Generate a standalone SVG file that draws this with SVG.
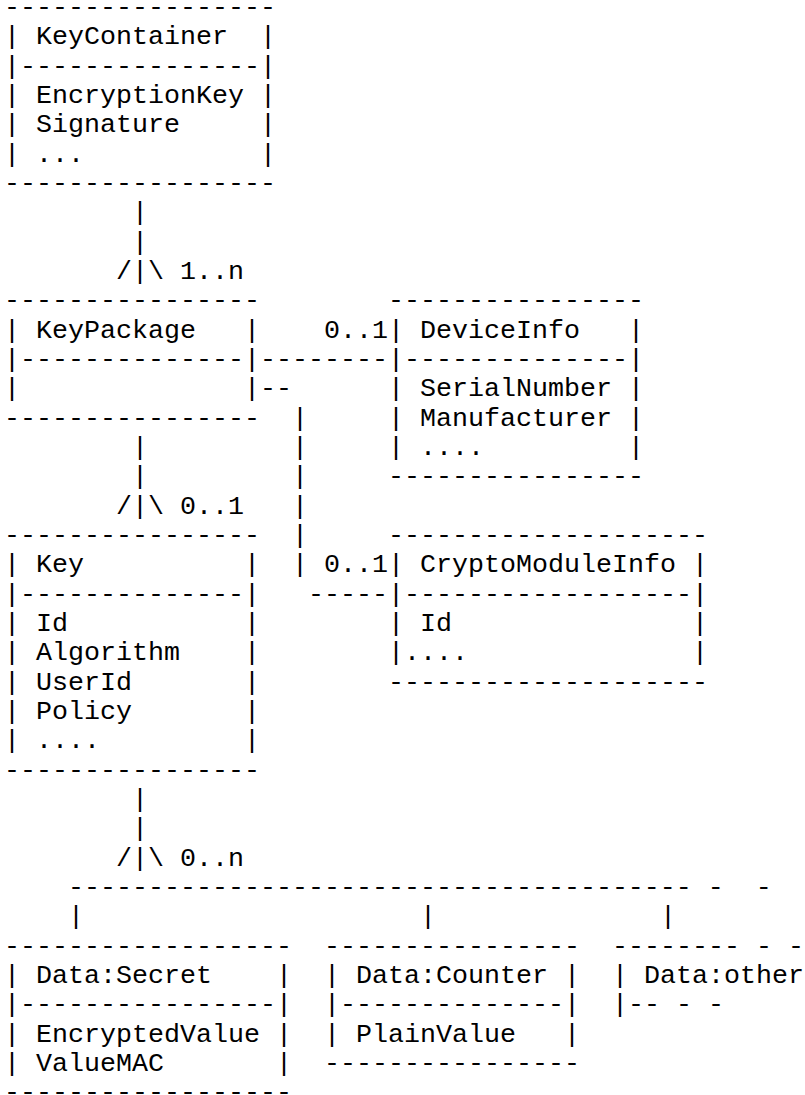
<svg xmlns="http://www.w3.org/2000/svg" width="805" height="1095" viewBox="0 0 805 1095" xml:space="preserve">
<style>
text{font-family:"Liberation Mono","Courier New",monospace;font-size:26.667px;fill:#000;white-space:pre}
</style>
<rect x="0" y="0" width="805" height="1095" fill="#fff"/>
<g id="node-keycontainer">
<text x="4" y="15">-----------------</text>
<text x="4" y="44.33">| KeyContainer  |</text>
<text x="4" y="73.67">|---------------|</text>
<text x="4" y="103">| EncryptionKey |</text>
<text x="4" y="132.33">| Signature     |</text>
<text x="4" y="161.67">| ...           |</text>
<text x="4" y="191">-----------------</text>
</g>
<g id="node-keypackage">
<text x="4" y="308.33">----------------</text>
<text x="4" y="337.67">| KeyPackage   |</text>
<text x="4" y="367">|--------------|</text>
<text x="4" y="396.33">|              |</text>
<text x="4" y="425.67">----------------</text>
</g>
<g id="node-deviceinfo">
<text x="388" y="308.33">----------------</text>
<text x="388" y="337.67">| DeviceInfo   |</text>
<text x="388" y="367">|--------------|</text>
<text x="388" y="396.33">| SerialNumber |</text>
<text x="388" y="425.67">| Manufacturer |</text>
<text x="388" y="455">| ....         |</text>
<text x="388" y="484.33">----------------</text>
</g>
<g id="node-key">
<text x="4" y="543">----------------</text>
<text x="4" y="572.33">| Key          |</text>
<text x="4" y="601.67">|--------------|</text>
<text x="4" y="631">| Id           |</text>
<text x="4" y="660.33">| Algorithm    |</text>
<text x="4" y="689.67">| UserId       |</text>
<text x="4" y="719">| Policy       |</text>
<text x="4" y="748.33">| ....         |</text>
<text x="4" y="777.67">----------------</text>
</g>
<g id="node-cryptomoduleinfo">
<text x="388" y="543">--------------------</text>
<text x="388" y="572.33">| CryptoModuleInfo |</text>
<text x="388" y="601.67">|------------------|</text>
<text x="388" y="631">| Id               |</text>
<text x="388" y="660.33">|....              |</text>
<text x="388" y="689.67">--------------------</text>
</g>
<g id="node-data-secret">
<text x="4" y="953.67">------------------</text>
<text x="4" y="983">| Data:Secret    |</text>
<text x="4" y="1012.33">|----------------|</text>
<text x="4" y="1041.67">| EncryptedValue |</text>
<text x="4" y="1071">| ValueMAC       |</text>
<text x="4" y="1100.33">------------------</text>
</g>
<g id="node-data-counter">
<text x="324" y="953.67">----------------</text>
<text x="324" y="983">| Data:Counter |</text>
<text x="324" y="1012.33">|--------------|</text>
<text x="324" y="1041.67">| PlainValue   |</text>
<text x="324" y="1071">----------------</text>
</g>
<g id="node-data-other">
<text x="612" y="953.67">-------- - -</text>
<text x="612" y="983">| Data:other</text>
<text x="612" y="1012.33">|-- - -</text>
</g>
<g id="connectors">
<text x="132" y="220.33">|</text>
<text x="132" y="249.67">|</text>
<text x="116" y="279">/|\ 1..n</text>
<text x="324" y="337.67">0..1</text>
<text x="260" y="367">--------</text>
<text x="260" y="396.33">--</text>
<text x="292" y="425.67">|</text>
<text x="292" y="455">|</text>
<text x="292" y="484.33">|</text>
<text x="292" y="513.67">|</text>
<text x="292" y="543">|</text>
<text x="292" y="572.33">|</text>
<text x="132" y="455">|</text>
<text x="132" y="484.33">|</text>
<text x="116" y="513.67">/|\ 0..1</text>
<text x="324" y="572.33">0..1</text>
<text x="308" y="601.67">-----</text>
<text x="132" y="807">|</text>
<text x="132" y="836.33">|</text>
<text x="116" y="865.67">/|\ 0..n</text>
<text x="68" y="895">--------------------------------------- -  -</text>
<text x="68" y="924.33">|</text>
<text x="420" y="924.33">|</text>
<text x="660" y="924.33">|</text>
</g>
</svg>
